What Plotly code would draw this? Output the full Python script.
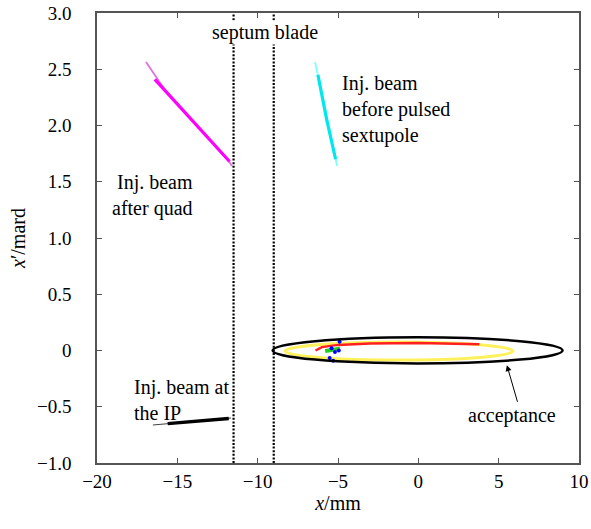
import plotly.graph_objects as go

# ---- data ----
x_tickvals = [-20, -15, -10, -5, 0, 5, 10]
x_ticktext = ["−20", "−15", "−10", "−5", "0", "5", "10"]
y_tickvals = [3.0, 2.5, 2.0, 1.5, 1.0, 0.5, 0.0, -0.5, -1.0]
y_ticktext = ["3.0", "2.5", "2.0", "1.5", "1.0", "0.5", "0", "−0.5", "−1.0"]

septum_x = [-11.5, -9.0]

# injected beam after quad (magenta)
quad_x_faint = [-16.95, -15.77, -11.85, -11.6]
quad_y_faint = [2.565, 2.316, 1.693, 1.64]
quad_x_core = [-16.4, -13.5, -11.75]
quad_y_core = [2.41, 1.95, 1.68]

# injected beam before pulsed sextupole (cyan)
sext_x_faint = [-6.43, -6.25, -5.19, -5.06]
sext_y_faint = [2.565, 2.449, 1.738, 1.64]
sext_x_core = [-6.25, -5.7, -5.15]
sext_y_core = [2.45, 2.05, 1.70]

# injected beam at the IP (black)
ip_x_faint = [-16.52, -15.8, -12.0, -11.66]
ip_y_faint = [-0.662, -0.653, -0.609, -0.60]
ip_x_core = [-15.6, -13.5, -11.8]
ip_y_core = [-0.650, -0.628, -0.605]

# acceptance ellipse (bounding box)
acc_x = [-9.07, 8.98]
acc_y = [-0.115, 0.117]

# stored-beam particle rings
yellow_x = [-8.3, 5.9]
yellow_y = [-0.085, 0.075]
red_x = [-6.4, -6.0, -5.0, -3.0, 0.0, 2.0, 3.8]
red_y = [0.0, 0.03, 0.05, 0.062, 0.066, 0.063, 0.055]
green_x = [-5.8, -5.3, -4.88]
green_y = [-0.005, 0.005, 0.015]
blue_x = [-5.19, -4.95, -5.4, -5.52, -4.9, -5.3]
blue_y = [-0.013, 0.0, 0.02, -0.067, 0.078, -0.09]

FONT = "Liberation Serif, Times New Roman, serif"

fig = go.Figure()

def seg(x, y, color, width):
    fig.add_trace(go.Scatter(x=x, y=y, mode="lines",
                             line=dict(color=color, width=width),
                             hoverinfo="skip", showlegend=False))

seg(quad_x_faint, quad_y_faint, "#e070e0", 1.8)
seg(quad_x_core, quad_y_core, "#ff00ff", 3.2)
seg(sext_x_faint, sext_y_faint, "#80ffff", 1.8)
seg(sext_x_core, sext_y_core, "#00e8ee", 3.2)
seg(ip_x_faint, ip_y_faint, "#444444", 1.2)
seg(ip_x_core, ip_y_core, "#000000", 3.5)
seg(red_x, red_y, "#ff2020", 2.5)
seg(green_x, green_y, "#20d020", 4)
fig.add_trace(go.Scatter(x=blue_x, y=blue_y, mode="markers",
                         marker=dict(color="#0000ff", size=4),
                         hoverinfo="skip", showlegend=False))

shapes = []
for sx in septum_x:
    shapes.append(dict(type="line", xref="x", yref="y", x0=sx, x1=sx, y0=-1.0, y1=3.0,
                       line=dict(color="black", width=2.2, dash="2px,1.6px")))
shapes.append(dict(type="circle", xref="x", yref="y", x0=yellow_x[0], x1=yellow_x[1],
                   y0=yellow_y[0], y1=yellow_y[1], line=dict(color="#ffee33", width=3),
                   opacity=0.8, layer="below"))
shapes.append(dict(type="circle", xref="x", yref="y", x0=acc_x[0], x1=acc_x[1],
                   y0=acc_y[0], y1=acc_y[1], line=dict(color="black", width=2.5)))

annots = [
    dict(x=-9.55, y=2.83, text="septum blade", showarrow=False, xanchor="center", yanchor="middle",
         bgcolor="white", borderpad=0),
    dict(x=-4.9, y=2.14, text="Inj. beam<br>before pulsed<br>sextupole", showarrow=False,
         xanchor="left", yanchor="middle", align="left"),
    dict(x=-13.9, y=1.38, text="Inj. beam<br>after quad", showarrow=False,
         xanchor="right", yanchor="middle", align="right"),
    dict(x=-17.85, y=-0.44, text="Inj. beam at<br>the IP", showarrow=False,
         xanchor="left", yanchor="middle", align="left"),
    dict(x=5.86, y=-0.575, text="acceptance", showarrow=False, xanchor="center", yanchor="middle"),
    dict(x=5.51, y=-0.13, ax=6.2, ay=-0.47, axref="x", ayref="y", xref="x", yref="y",
         text="", showarrow=True, arrowhead=2, arrowsize=1.2, arrowwidth=1, arrowcolor="black"),
]
for a in annots:
    a.setdefault("xref", "x")
    a.setdefault("yref", "y")
    a["font"] = dict(family=FONT, size=20, color="black")

axis_common = dict(showgrid=False, zeroline=False, showline=True, linecolor="#555555",
                   linewidth=1.5, mirror="ticks", ticks="inside", ticklen=5,
                   tickcolor="#555555", automargin=False,
                   tickfont=dict(family=FONT, size=19, color="black"))

fig.update_layout(
    width=591, height=529,
    margin=dict(l=97, r=12, t=13, b=66),
    paper_bgcolor="white", plot_bgcolor="white",
    shapes=shapes, annotations=annots,
    xaxis=dict(range=[-20, 10], tickvals=x_tickvals, ticktext=x_ticktext,
               ticklabelstandoff=0,
               title=dict(text="<i>x</i>/mm", font=dict(family=FONT, size=20, color="black"),
                          standoff=0),
               **axis_common),
    yaxis=dict(range=[-1.0, 3.0], tickvals=y_tickvals, ticktext=y_ticktext,
               ticklabelstandoff=20,
               title=dict(text="<i>x</i>′/mard", font=dict(family=FONT, size=20, color="black"),
                          standoff=6),
               **axis_common),
)

fig.write_html("out.html")
